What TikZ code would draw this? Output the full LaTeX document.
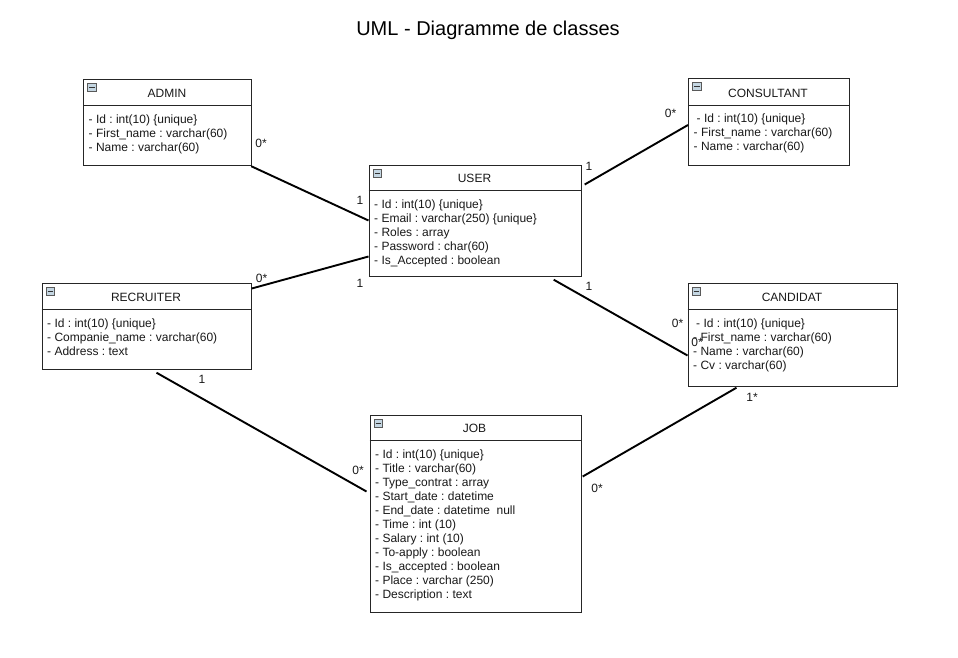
\documentclass[tikz,border=0pt]{standalone}
\usepackage{fontspec}
\setmainfont{Liberation Sans}
\frenchspacing
\usetikzlibrary{calc}
\tikzset{
  x=1pt,y=-1pt,
  boxshape/.style={draw=black!85,line width=1.2pt,fill=white,rectangle,inner sep=0pt,anchor=north west},
  assoc/.style={draw=black,line width=1.9pt},
  lbl/.style={font=\fontsize{12}{14}\selectfont,inner sep=0pt,text=black!90},
  attrs/.style={font=\fontsize{12}{14}\selectfont,inner sep=0pt,anchor=north west,align=left,text=black!90},
  head/.style={font=\fontsize{12}{14}\selectfont,inner sep=0pt,text=black!90},
}
\definecolor{iconfill}{RGB}{196,214,226}
\newcommand{\attrdy}{36}
% #1 name, #2 x, #3 y, #4 w, #5 h, #6 header h, #7 title, #8 attributes, #9 title x offset
\newcommand{\umlclass}[9]{%
  \node[boxshape,minimum width=#4pt,minimum height=#5pt] (#1) at (#2,#3) {};
  \draw[draw=black!85,line width=1pt] ($(#1.north west)+(0,#6)$) -- ($(#1.north east)+(0,#6)$);
  \node[head] (#1t) at ($(#1.north west)+(#9,#6/2+1.5)$) {#7};
  \node[attrs] (#1a) at ($(#1.north west)+(5.5,\attrdy)$) {#8};
  \draw[draw=black!65,fill=iconfill,line width=.8pt] ($(#1.north west)+(4.5,4.5)$) rectangle ($(#1.north west)+(13,12.5)$);
  \draw[draw=black!80,line width=.9pt] ($(#1.north west)+(6,8.5)$) -- ($(#1.north west)+(11.5,8.5)$);
}
\begin{document}
\begin{tikzpicture}
\useasboundingbox (0,0) rectangle (958,657);
\fill[white] (0,0) rectangle (958,657);
\node[font=\fontsize{20}{24}\selectfont,inner sep=0pt] (title) at (488,30) {UML - Diagramme de classes};

\renewcommand{\attrdy}{35.5}
\umlclass{admin}{83}{79}{168}{86}{26}{ADMIN}{- Id : int(10) \{unique\}\\- First\_name : varchar(60)\\- Name : varchar(60)}{84}
\renewcommand{\attrdy}{35.5}
\umlclass{consultant}{688}{78}{161}{86.5}{27}{CONSULTANT}{\hspace{3pt}- Id : int(10) \{unique\}\\- First\_name : varchar(60)\\- Name : varchar(60)}{80}
\renewcommand{\attrdy}{35.5}
\umlclass{user}{368.5}{164.5}{212}{111}{25.5}{USER}{- Id : int(10) \{unique\}\\- Email : varchar(250) \{unique\}\\- Roles : array\\- Password : char(60)\\- Is\_Accepted : boolean}{106}
\renewcommand{\attrdy}{36.5}
\umlclass{recruiter}{41.5}{282.5}{209}{86}{26.5}{RECRUITER}{- Id : int(10) \{unique\}\\- Companie\_name : varchar(60)\\- Address : text}{104.5}
\umlclass{candidat}{687.5}{282.5}{209}{103}{26.5}{CANDIDAT}{\hspace{3pt}- Id : int(10) \{unique\}\\- First\_name : varchar(60)\\- Name : varchar(60)\\- Cv : varchar(60)}{104.5}
\renewcommand{\attrdy}{35.5}
\umlclass{job}{369.5}{414.5}{211}{197}{25.5}{JOB}{- Id : int(10) \{unique\}\\- Title : varchar(60)\\- Type\_contrat : array\\- Start\_date : datetime\\- End\_date : datetime\ \ null\\- Time : int (10)\\- Salary : int (10)\\- To-apply : boolean\\- Is\_accepted : boolean\\- Place : varchar (250)\\- Description : text}{105}

\coordinate (adminEnd) at ($(admin.south east)+(-1,0)$);
\coordinate (userA) at ($(user.north west)+(0,56)$);
\coordinate (userR) at ($(user.north west)+(0,92)$);
\coordinate (recR) at ($(recruiter.north east)+(0,6)$);
\coordinate (userC) at ($(user.north east)+(3,20)$);
\coordinate (consC) at ($(consultant.north west)+(0,47)$);
\coordinate (userD) at ($(user.south east)+(-28,3)$);
\coordinate (candU) at ($(candidat.north west)+(0,73)$);
\coordinate (recJ) at ($(recruiter.south west)+(115,3)$);
\coordinate (jobR) at ($(job.north west)+(-3,77)$);
\coordinate (jobC) at ($(job.north east)+(1,62)$);
\coordinate (candJ) at ($(candidat.south west)+(49,1)$);

\draw[assoc] (adminEnd) -- (userA);
\draw[assoc] (userR) -- (recR);
\draw[assoc] (userC) -- (consC);
\draw[assoc] (userD) -- (candU);
\draw[assoc] (recJ) -- (jobR);
\draw[assoc] (jobC) -- (candJ);

\node[lbl] (l1) at (261,143) {0*};
\node[lbl] (l2) at (360,200) {1};
\node[lbl] (l3) at (670.5,113) {0*};
\node[lbl] (l4) at (589,166) {1};
\node[lbl] (l5) at (261.5,278) {0*};
\node[lbl] (l6) at (360,283) {1};
\node[lbl] (l7) at (589,286) {1};
\node[lbl] (l8) at (677.5,323) {0*};
\node[lbl] (l9) at (697,342.5) {0*};
\node[lbl] (l10) at (202,379) {1};
\node[lbl] (l11) at (358,470) {0*};
\node[lbl] (l12) at (597,488) {0*};
\node[lbl] (l13) at (752,397) {1*};
\end{tikzpicture}
\end{document}
